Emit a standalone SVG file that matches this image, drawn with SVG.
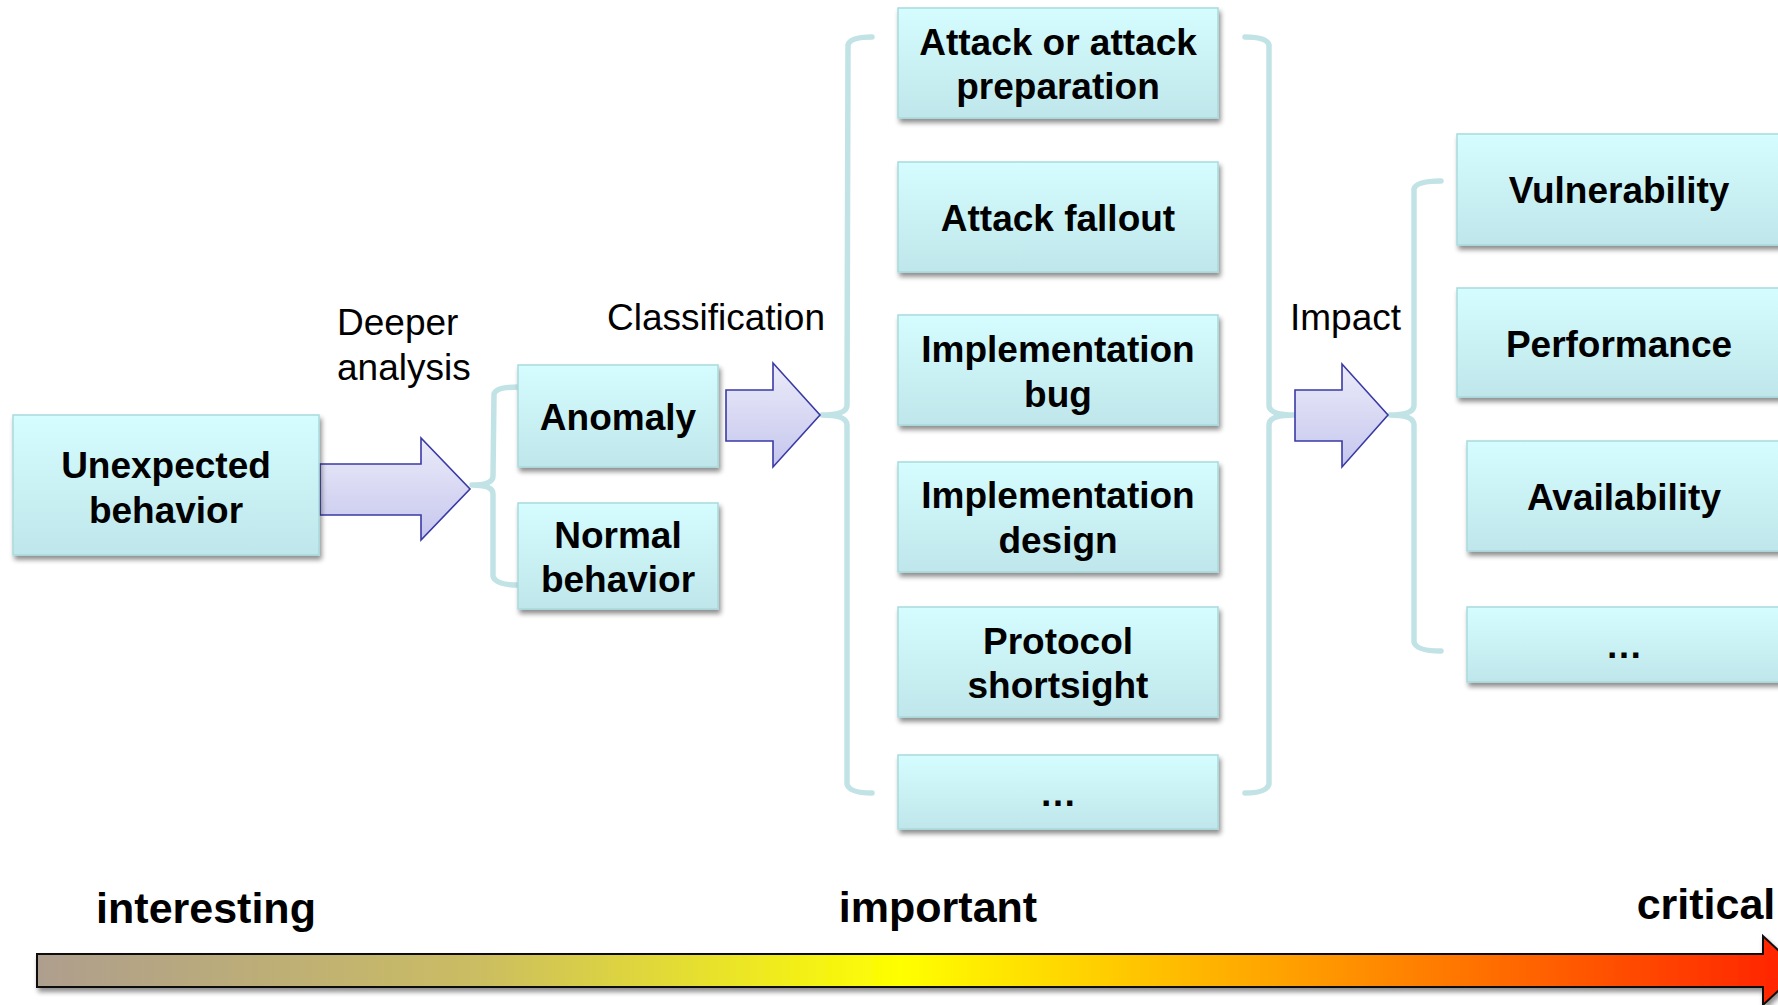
<svg xmlns="http://www.w3.org/2000/svg" width="1778" height="1005" viewBox="0 0 1778 1005">
<defs>
<linearGradient id="boxg" x1="0" y1="0" x2="0" y2="1">
<stop offset="0" stop-color="#d5fcfe"/>
<stop offset="1" stop-color="#bfe7eb"/>
</linearGradient>
<linearGradient id="arrg" x1="0" y1="0" x2="0" y2="1">
<stop offset="0" stop-color="#ebebf9"/>
<stop offset="1" stop-color="#c6c6ee"/>
</linearGradient>
<linearGradient id="barg" gradientUnits="userSpaceOnUse" x1="37" y1="0" x2="1800" y2="0">
<stop offset="0" stop-color="#ae9e8e"/>
<stop offset="0.25" stop-color="#cbbd62"/>
<stop offset="0.49" stop-color="#ffff00"/>
<stop offset="0.72" stop-color="#ff9c00"/>
<stop offset="1" stop-color="#ff2000"/>
</linearGradient>
<filter id="sh" x="-10%" y="-20%" width="130%" height="150%">
<feGaussianBlur in="SourceAlpha" stdDeviation="2.5"/>
<feOffset dx="2" dy="4" result="b"/>
<feComponentTransfer><feFuncA type="linear" slope="0.45"/></feComponentTransfer>
<feMerge><feMergeNode/><feMergeNode in="SourceGraphic"/></feMerge>
</filter>
</defs>
<style>
.box{fill:url(#boxg);stroke:#a9dadd;stroke-width:1.5;filter:url(#sh)}
.bt{font-family:"Liberation Sans",Arial,sans-serif;font-weight:bold;font-size:37px;fill:#000;text-anchor:middle}
.lt{font-family:"Liberation Sans",Arial,sans-serif;font-size:37px;fill:#000}
.scale{font-family:"Liberation Sans",Arial,sans-serif;font-weight:bold;font-size:43px;fill:#000;text-anchor:middle}
.brace{fill:none;stroke:#c2e3e5;stroke-width:5.5;stroke-linecap:round;stroke-linejoin:round}
.arr{fill:url(#arrg);stroke:#3a3aa6;stroke-width:1.6;stroke-linejoin:miter}
</style>
<rect width="1778" height="1005" fill="#ffffff"/>

<g id="connectors">
<path class="brace" d="M518,387 Q496,387 494,394 L493,476 Q493,485 472,485 Q493,485 493,494 L493,576 Q495,585 518,585"/>
<path class="brace" d="M872,37 Q850,37 848,45 L847,405 Q847,415 822,415 Q847,415 847,425 L847,784 Q849,793 872,793"/>
<path class="brace" d="M1245,37 Q1267,37 1269,45 L1269,405 Q1269,415 1294,415 Q1269,415 1269,425 L1269,784 Q1267,793 1245,793"/>
<path class="brace" d="M1441,181 Q1416,181 1414,189 L1414,405 Q1414,415 1390,415 Q1414,415 1414,425 L1414,642 Q1416,651 1441,651"/>
<polygon class="arr" points="320,464 421,464 421,438 470,489 421,540 421,515 320,515"/>
<polygon class="arr" points="726,390 773,390 773,363 820,415 773,467 773,441 726,441"/>
<polygon class="arr" points="1295,390 1342,390 1342,364 1388,415 1342,467 1342,441 1295,441"/>
</g>

<g id="labels">
<text class="lt" x="337" y="335">Deeper</text>
<text class="lt" x="337" y="380">analysis</text>
<text class="lt" x="607" y="330">Classification</text>
<text class="lt" x="1290" y="330">Impact</text>
</g>

<g id="n-unexpected">
<rect class="box" x="13" y="415" width="306" height="140"/>
<text class="bt" x="166" y="478">Unexpected</text>
<text class="bt" x="166" y="523">behavior</text>
</g>
<g id="n-anomaly">
<rect class="box" x="518" y="365" width="200" height="102"/>
<text class="bt" x="618" y="430">Anomaly</text>
</g>
<g id="n-normal">
<rect class="box" x="518" y="503" width="200" height="106"/>
<text class="bt" x="618" y="548">Normal</text>
<text class="bt" x="618" y="592">behavior</text>
</g>

<g id="n-attack">
<rect class="box" x="898" y="8" width="320" height="110"/>
<text class="bt" x="1058" y="55">Attack or attack</text>
<text class="bt" x="1058" y="99">preparation</text>
</g>
<g id="n-fallout">
<rect class="box" x="898" y="162" width="320" height="110"/>
<text class="bt" x="1058" y="231">Attack fallout</text>
</g>
<g id="n-implbug">
<rect class="box" x="898" y="315" width="320" height="110"/>
<text class="bt" x="1058" y="362">Implementation</text>
<text class="bt" x="1058" y="407">bug</text>
</g>
<g id="n-impldesign">
<rect class="box" x="898" y="462" width="320" height="110"/>
<text class="bt" x="1058" y="508">Implementation</text>
<text class="bt" x="1058" y="553">design</text>
</g>
<g id="n-protocol">
<rect class="box" x="898" y="607" width="320" height="110"/>
<text class="bt" x="1058" y="654">Protocol</text>
<text class="bt" x="1058" y="698">shortsight</text>
</g>
<g id="n-more1">
<rect class="box" x="898" y="755" width="320" height="74"/>
<text class="bt" x="1058" y="806">…</text>
</g>

<g id="n-vuln">
<rect class="box" x="1457" y="134" width="340" height="111"/>
<text class="bt" x="1619" y="203">Vulnerability</text>
</g>
<g id="n-perf">
<rect class="box" x="1457" y="288" width="340" height="109"/>
<text class="bt" x="1619" y="357">Performance</text>
</g>
<g id="n-avail">
<rect class="box" x="1467" y="441" width="340" height="110"/>
<text class="bt" x="1624" y="510">Availability</text>
</g>
<g id="n-more2">
<rect class="box" x="1467" y="607" width="340" height="75"/>
<text class="bt" x="1624" y="658">…</text>
</g>

<g id="scale">
<polygon points="37,954 1763,954 1763,936 1800,970.5 1763,1005 1763,987 37,987" fill="url(#barg)" stroke="#111" stroke-width="2" filter="url(#sh)"/>
<text class="scale" x="206" y="923">interesting</text>
<text class="scale" x="938" y="922">important</text>
<text class="scale" x="1706" y="919">critical</text>
</g>
</svg>
